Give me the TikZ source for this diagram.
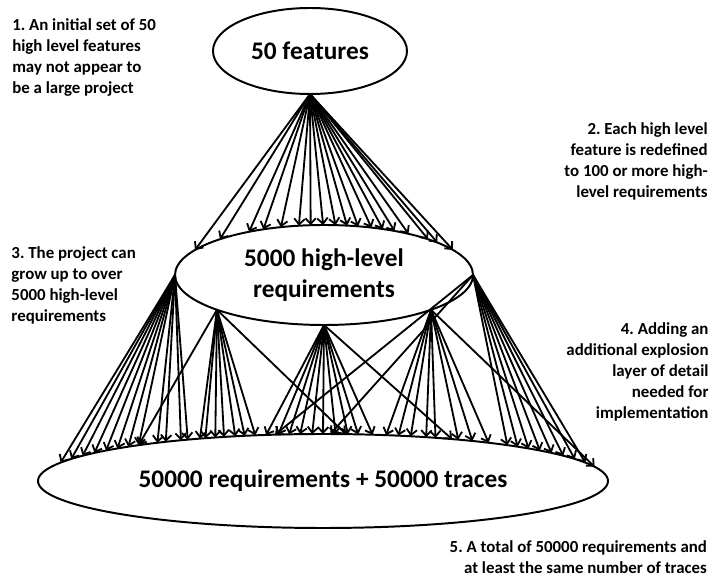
\documentclass[tikz,border=0pt]{standalone}
\usepackage{fontspec}
\setmainfont{Carlito}
\usetikzlibrary{shapes.geometric,arrows.meta}
\frenchspacing

\begin{document}
\begin{tikzpicture}[>={Straight Barb[length=4pt,width=7.5pt]},
        oval/.style={ellipse,draw,line width=1.4pt,inner sep=0pt,outer sep=0pt,align=center,font=\fontsize{18}{22}\selectfont\bfseries},
        note/.style={inner sep=0pt,font=\fontsize{12}{15}\selectfont\bfseries},
        fan/.style={line width=1.3pt,->}]
        \useasboundingbox (0,0) rectangle (17.8,14.4);

        \node at (7.75,13.125) [oval,minimum width=4.85cm,minimum height=2.15cm] (feat) {50 features};
        \node at (8.1,7.525) [oval,minimum width=7.45cm,minimum height=2.5cm] (hlreq) {5000 high-level\\requirements};
        \node at (8.075,2.375) [oval,minimum width=14.25cm,minimum height=2.35cm] (allreq) {50000 requirements + 50000 traces};

        % features -> high-level requirements
        \foreach \d in {-129,-104,-77,-61,-44,-26,-14,-1,11,23,34,46,58,69,83,101,113,126}{
            \pgfmathsetmacro\angl{atan2(50*sqrt(1-(\d/149)^2),\d)}
            \draw[fan] (feat.south) -- (hlreq.\angl);
        }

        % high-level requirements -> requirements, one fan per spot
        \foreach \d in {-270,-258,-245,-233,-221,-208,-198,-186,-171,-160,-148,-136}{
            \pgfmathsetmacro\angl{atan2(47*sqrt(1-(\d/285)^2),\d)}
            \draw[fan] (hlreq.west) -- (allreq.\angl);
        }
        \foreach \d in {-193,-128,-122,-111,-100,-88,-81,-70,22}{
            \pgfmathsetmacro\angl{atan2(47*sqrt(1-(\d/285)^2),\d)}
            \draw[fan] (hlreq.198) -- (allreq.\angl);
        }
        \foreach \d in {-58,-46,-35,-23,-11,0,12,24,34,49,124}{
            \pgfmathsetmacro\angl{atan2(47*sqrt(1-(\d/285)^2),\d)}
            \draw[fan] (hlreq.south) -- (allreq.\angl);
        }
        \foreach \d in {62,75,87,99,110,134,145,159,269}{
            \pgfmathsetmacro\angl{atan2(47*sqrt(1-(\d/285)^2),\d)}
            \draw[fan] (hlreq.342) -- (allreq.\angl);
        }
        \foreach \d in {-48,7,177,189,199,210,221,233,245,257}{
            \pgfmathsetmacro\angl{atan2(47*sqrt(1-(\d/285)^2),\d)}
            \draw[fan] (hlreq.east) -- (allreq.\angl);
        }

        % side notes
        \node at (0.3,13.95) [note,anchor=north west,align=left] (note1) {1. An initial set of 50\\high level features\\may not appear to\\be a large project};
        \node at (17.7,11.35) [note,anchor=north east,align=right] (note2) {2. Each high level\\feature is redefined\\to 100 or more high-\\level requirements};
        \node at (0.28,8.25) [note,anchor=north west,align=left] (note3) {3. The project can\\grow up to over\\5000 high-level\\requirements};
        \node at (17.72,6.35) [note,anchor=north east,align=right] (note4) {4. Adding an\\additional explosion\\layer of detail\\needed for\\implementation};
        \node at (17.68,0.9) [note,anchor=north east,align=right] (note5) {5. A total of 50000 requirements and\\at least the same number of traces};
\end{tikzpicture}
\end{document}
